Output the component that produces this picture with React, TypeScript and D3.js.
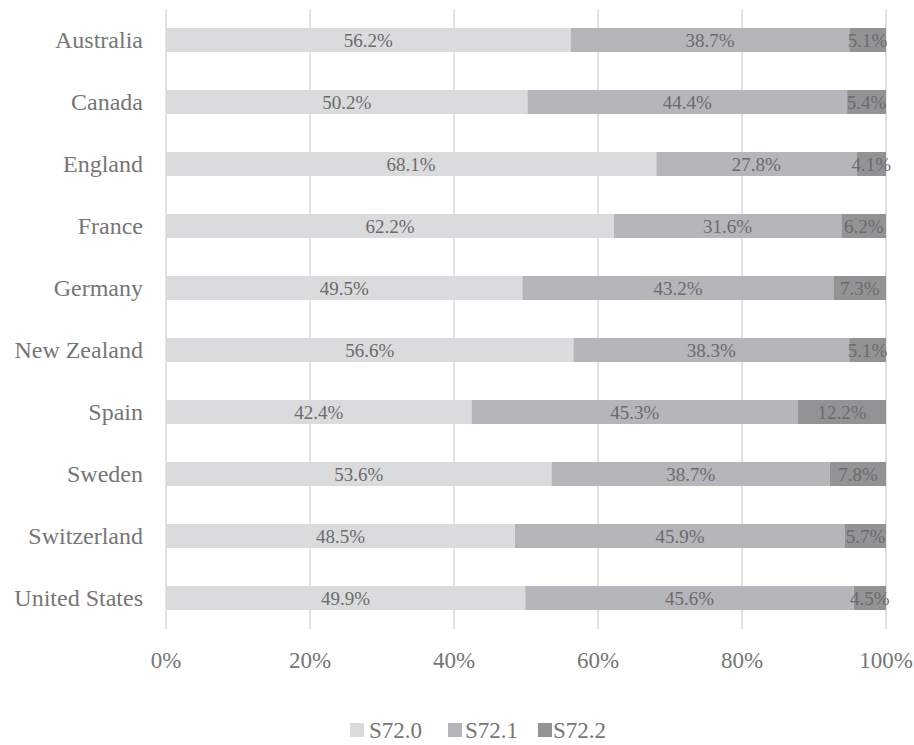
import React, { useEffect, useRef } from 'react';
import * as d3 from 'd3';

const countries = ['Australia', 'Canada', 'England', 'France', 'Germany', 'New Zealand', 'Spain', 'Sweden', 'Switzerland', 'United States'];
const seriesNames = ['S72.0', 'S72.1', 'S72.2'];
const s720 = [56.2, 50.2, 68.1, 62.2, 49.5, 56.6, 42.4, 53.6, 48.5, 49.9];
const s721 = [38.7, 44.4, 27.8, 31.6, 43.2, 38.3, 45.3, 38.7, 45.9, 45.6];
const s722 = [5.1, 5.4, 4.1, 6.2, 7.3, 5.1, 12.2, 7.8, 5.7, 4.5];
const xTicks = [0, 0.2, 0.4, 0.6, 0.8, 1];
const colors = ['#dadbdd', '#b5b6b9', '#939396'];

const FONT = '"Liberation Serif", "Times New Roman", serif';

const App = () => {
  const svgRef = useRef<SVGSVGElement>(null);

  useEffect(() => {
    const width = 914;
    const height = 745;
    const margin = { top: 9, right: 28, bottom: 116, left: 166 };

    const svg = d3.select(svgRef.current);
    svg.selectAll('*').remove();

    const rows = countries.map((c, i) => ({ country: c, 'S72.0': s720[i], 'S72.1': s721[i], 'S72.2': s722[i] }));
    const stacked = d3.stack<any>().keys(seriesNames).offset(d3.stackOffsetExpand)(rows);

    const x = d3.scaleLinear().domain([0, 1]).range([margin.left, width - margin.right]);
    const y = d3.scaleBand().domain(countries).range([margin.top, height - margin.bottom]).paddingInner(0.613).paddingOuter(0.306);
    const color = d3.scaleOrdinal<string>().domain(seriesNames).range(colors);

    // gridlines
    svg.append('g')
      .selectAll('line')
      .data(xTicks)
      .enter()
      .append('line')
      .attr('x1', (d) => x(d))
      .attr('x2', (d) => x(d))
      .attr('y1', margin.top)
      .attr('y2', height - margin.bottom)
      .attr('stroke', '#d9d9d9')
      .attr('stroke-width', 1.5);

    const layers = svg.append('g')
      .selectAll('g')
      .data(stacked)
      .enter()
      .append('g')
      .attr('fill', (d) => color(d.key));

    layers.selectAll('rect')
      .data((d) => d)
      .enter()
      .append('rect')
      .attr('x', (d) => x(d[0]))
      .attr('width', (d) => x(d[1]) - x(d[0]))
      .attr('y', (d: any) => y(d.data.country)!)
      .attr('height', y.bandwidth());

    // data labels
    stacked.forEach((layer) => {
      svg.append('g')
        .selectAll('text')
        .data(layer)
        .enter()
        .append('text')
        .attr('x', (d) => (x(d[0]) + x(d[1])) / 2)
        .attr('y', (d: any) => y(d.data.country)! + y.bandwidth() / 2)
        .attr('dy', '0.35em')
        .attr('text-anchor', 'middle')
        .attr('font-family', FONT)
        .attr('font-size', 19)
        .attr('fill', '#6b6b6b')
        .text((d: any) => d.data[layer.key].toFixed(1) + '%');
    });

    // category labels
    svg.append('g')
      .selectAll('text')
      .data(countries)
      .enter()
      .append('text')
      .attr('x', margin.left - 23)
      .attr('y', (d) => y(d)! + y.bandwidth() / 2)
      .attr('dy', '0.35em')
      .attr('text-anchor', 'end')
      .attr('font-family', FONT)
      .attr('font-size', 24)
      .attr('fill', '#767676')
      .text((d) => d);

    // x tick labels
    svg.append('g')
      .selectAll('text')
      .data(xTicks)
      .enter()
      .append('text')
      .attr('x', (d) => x(d))
      .attr('y', 668)
      .attr('text-anchor', 'middle')
      .attr('font-family', FONT)
      .attr('font-size', 23)
      .attr('fill', '#767676')
      .text((d) => d3.format('.0%')(d));

    // legend
    const legendX = [350, 448, 538];
    const legendTextX = [369, 465, 553];
    const legend = svg.append('g')
      .selectAll('g')
      .data(seriesNames)
      .enter()
      .append('g');

    legend.append('rect')
      .attr('x', (d, i) => legendX[i])
      .attr('y', 723)
      .attr('width', 14)
      .attr('height', 14)
      .attr('fill', (d) => color(d));

    legend.append('text')
      .attr('x', (d, i) => legendTextX[i])
      .attr('y', 738)
      .attr('font-family', FONT)
      .attr('font-size', 23)
      .attr('fill', '#767676')
      .text((d) => d);
  }, []);

  return (
    <svg ref={svgRef} width={914} height={745} style={{ position: 'absolute', left: 0, top: 0, background: '#fff' }} />
  );
};

export default App;
